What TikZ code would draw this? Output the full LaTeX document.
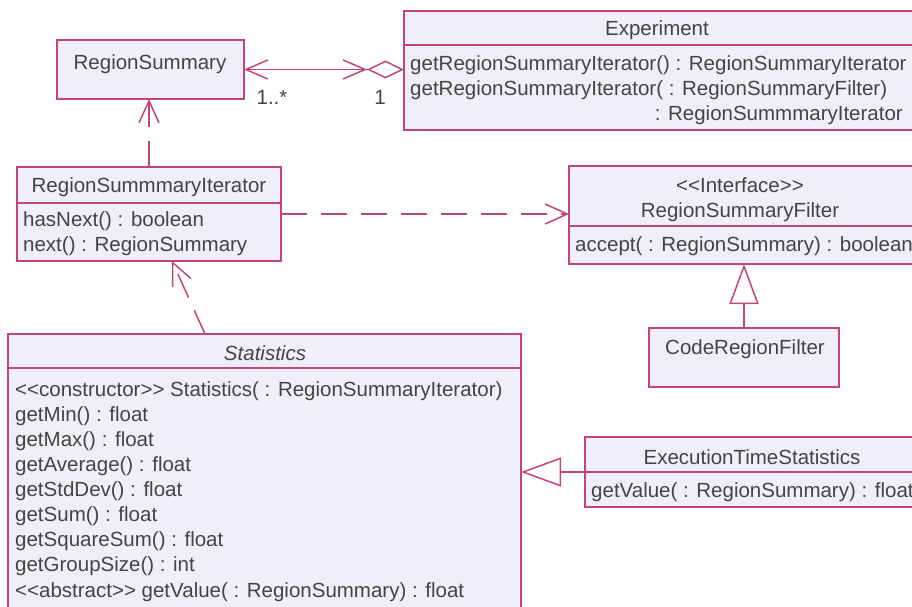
\documentclass[tikz,border=0pt]{standalone}
\usepackage{fontspec}
\setmainfont{Liberation Sans}[Ligatures=TeXOff]
\usetikzlibrary{arrows.meta}
\definecolor{umlline}{HTML}{C0457A}
\definecolor{umlfill}{HTML}{EFEFFA}
\definecolor{umltext}{HTML}{444444}
\tikzset{
  cls/.style={draw=umlline, fill=umlfill, line width=1.5pt, inner sep=0pt, outer sep=0pt, anchor=north west},
  sepline/.style={draw=umlline, line width=1.5pt},
  txt/.style={inner sep=0pt, text=umltext, font=\fontsize{20.5}{25}\selectfont, text height=15pt, text depth=4.5pt, yshift=-2pt},
  conn/.style={draw=umlline, line width=1.5pt},
  dep/.style={conn, dash pattern=on 26pt off 14pt, -{Straight Barb[length=22pt,width=20pt,line width=1.5pt]}},
  gen/.style={conn, -{Triangle[open,length=40pt,width=29pt,line width=1.5pt]}},
}
\begin{document}
\begin{tikzpicture}[x=1pt,y=-1pt]
\useasboundingbox (0,0) rectangle (912,606);
\clip (0,0) rectangle (912,606);

% class boxes
\node[cls, minimum width=187pt, minimum height=59pt] (rs) at (57,40) {};
\node[cls, minimum width=520pt, minimum height=119pt] (exp) at (404,11) {};
\node[cls, minimum width=264pt, minimum height=94pt] (rsi) at (17,167) {};
\node[cls, minimum width=360pt, minimum height=98pt] (rsf) at (569,166) {};
\node[cls, minimum width=190pt, minimum height=59pt] (crf) at (649,328) {};
\node[cls, minimum width=513pt, minimum height=300pt] (stat) at (8,334) {};
\node[cls, minimum width=340pt, minimum height=70pt] (ets) at (585,437) {};

% compartment separators
\draw[sepline] (404,45) -- (924,45);
\draw[sepline] (17,203) -- (281,203);
\draw[sepline] (569,226) -- (929,226);
\draw[sepline] (8,368) -- (521,368);
\draw[sepline] (585,472) -- (925,472);

% RegionSummary
\node[txt] (rsname) at (150,62) {RegionSummary};

% Experiment
\node[txt] (expname) at (657,28) {Experiment};
\node[txt, anchor=west] (exp1) at (410,63) {getRegionSummaryIterator() : RegionSummaryIterator};
\node[txt, anchor=west] (exp2) at (410,88) {getRegionSummaryIterator( : RegionSummaryFilter)};
\node[txt, anchor=east] (exp3) at (903,113) {: RegionSummmaryIterator};

% RegionSummmaryIterator
\node[txt] (rsiname) at (149,185) {RegionSummmaryIterator};
\node[txt, anchor=west] (rsi1) at (23,219) {hasNext() : boolean};
\node[txt, anchor=west] (rsi2) at (23,244) {next() : RegionSummary};

% RegionSummaryFilter
\node[txt] (rsfst) at (740,185) {<<Interface>>};
\node[txt] (rsfname) at (740,210) {RegionSummaryFilter};
\node[txt, anchor=west] (rsf1) at (575,244) {accept( : RegionSummary) : boolean};

% CodeRegionFilter
\node[txt] (crfname) at (745,347) {CodeRegionFilter};

% Statistics
\node[txt, font=\fontsize{20.5}{25}\selectfont\itshape] (statname) at (265,353) {Statistics};
\foreach \t [count=\i from 0] in {%
  {<<constructor>> Statistics( : RegionSummaryIterator)},
  {getMin() : float},
  {getMax() : float},
  {getAverage() : float},
  {getStdDev() : float},
  {getSum() : float},
  {getSquareSum() : float},
  {getGroupSize() : int},
  {<<abstract>> getValue( : RegionSummary) : float}}
  \node[txt, anchor=west] (stat\i) at (15,389+25.1*\i) {\t};

% ExecutionTimeStatistics
\node[txt] (etsname) at (752,457) {ExecutionTimeStatistics};
\node[txt, anchor=west] (ets1) at (591,490) {getValue( : RegionSummary) : float};

% associations and dependencies
\draw[conn, {Straight Barb[length=22pt,width=19pt,line width=1.5pt]}-{Straight Barb[length=22pt,width=19pt,line width=1.5pt,sep=0pt] Diamond[open,length=37pt,width=18pt,line width=1.5pt]}]
  (rs.east) -- (rs.east -| exp.west);
\draw[dep] (rsi.north) -- (rsi.north |- rs.south);
\draw[dep] (rsi.east) -- (rsi.east -| rsf.west);
\draw[dep] ([xshift=197pt]stat.north west) -- ([xshift=155pt]rsi.south west);

% generalizations
\draw[gen] (crf.north) -- (crf.north |- rsf.south);
\draw[gen] (ets.west) -- (ets.west -| stat.east);

% multiplicities
\node[txt] (m1) at (272,97) {1..*};
\node[txt] (m2) at (380,97) {1};
\end{tikzpicture}
\end{document}
